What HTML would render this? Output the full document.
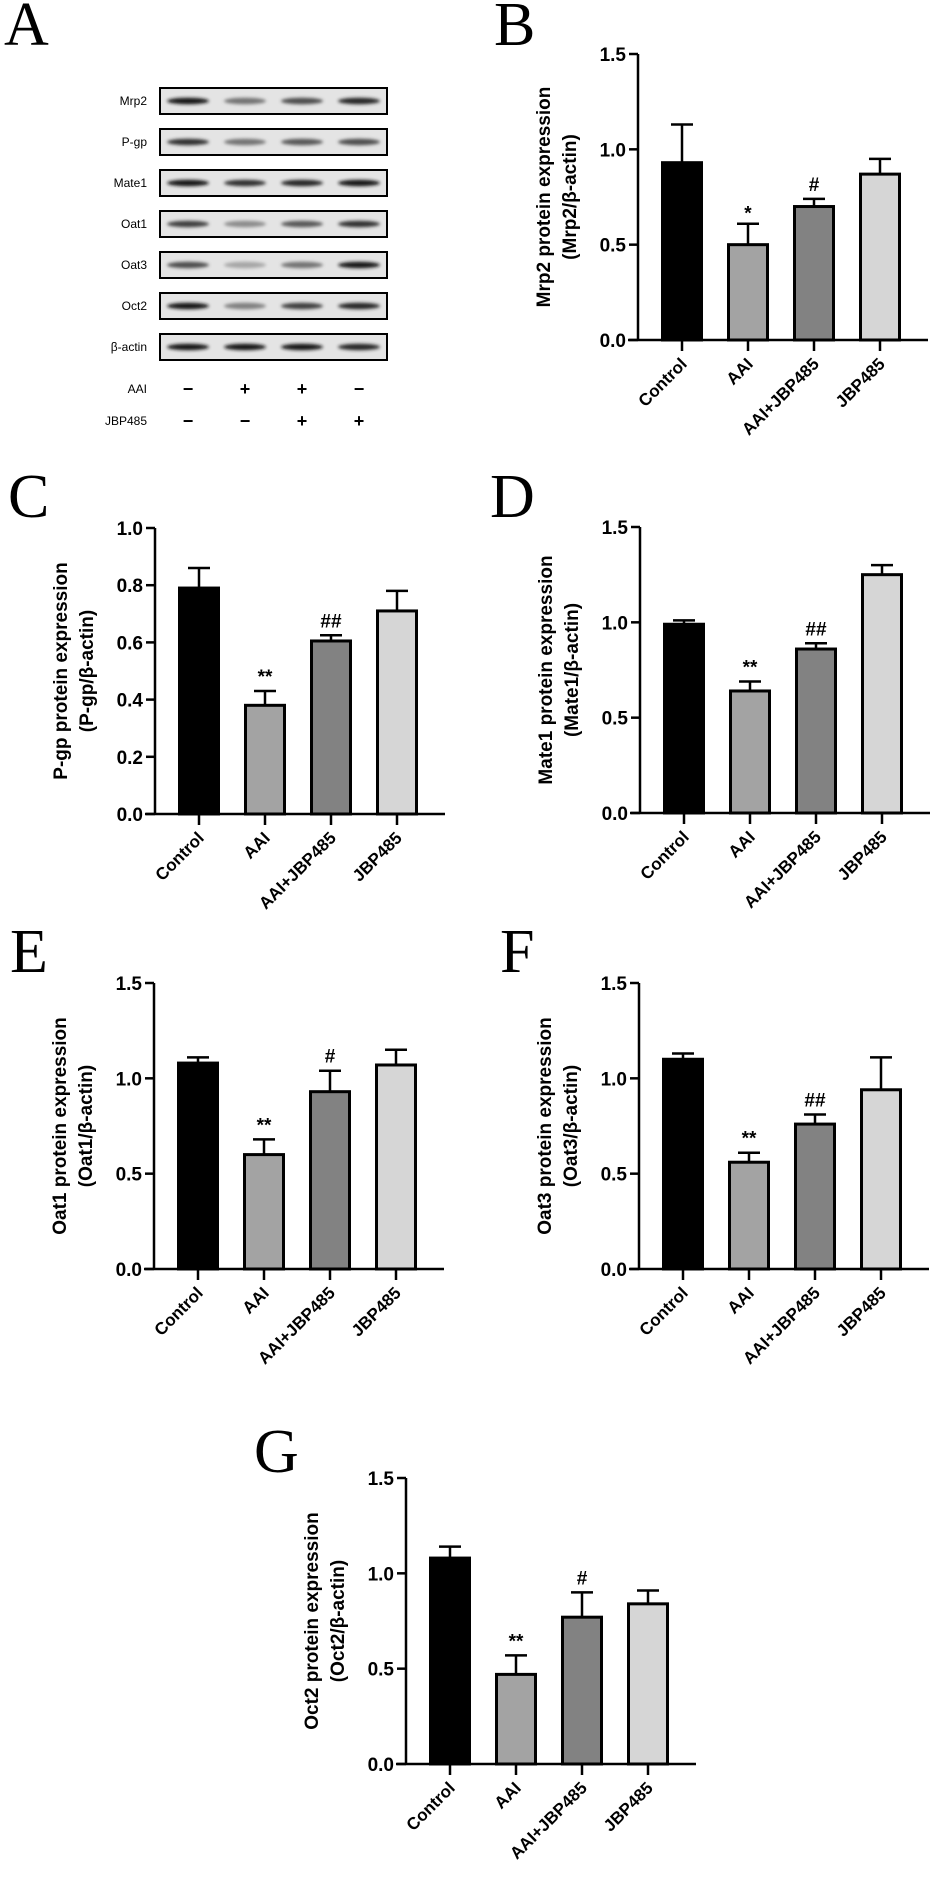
<!DOCTYPE html>
<html><head><meta charset="utf-8">
<style>
html,body{margin:0;padding:0;background:#fff;}
svg{display:block;}
text{font-family:"Liberation Sans",Arial,sans-serif;}
.pl{font-family:"Liberation Serif",serif;font-size:62px;}
.tk{font-size:19px;font-weight:bold;}
.yt{font-size:19px;font-weight:bold;}
.cat{font-size:17px;font-weight:bold;}
.bl{font-size:12px;}
</style></head>
<body>
<svg id="fig" width="931" height="1889" viewBox="0 0 931 1889" xmlns="http://www.w3.org/2000/svg">
<defs>
<filter id="blur" x="-20%" y="-100%" width="140%" height="300%"><feGaussianBlur stdDeviation="1.6"/></filter>
</defs>
<text class="pl" x="4" y="45">A</text>
<g id="blot"></g>
</svg>
<script>
const categories = ["Control","AAI","AAI+JBP485","JBP485"];
const mrp2Values = [0.93,0.50,0.70,0.87];
const mrp2Errors = [0.20,0.11,0.04,0.08];
const pgpValues = [0.79,0.38,0.605,0.71];
const pgpErrors = [0.07,0.05,0.02,0.07];
const mate1Values = [0.99,0.64,0.86,1.25];
const mate1Errors = [0.02,0.05,0.03,0.05];
const oat1Values = [1.08,0.60,0.93,1.07];
const oat1Errors = [0.03,0.08,0.11,0.08];
const oat3Values = [1.10,0.56,0.76,0.94];
const oat3Errors = [0.03,0.05,0.05,0.17];
const oct2Values = [1.08,0.47,0.77,0.84];
const oct2Errors = [0.06,0.10,0.13,0.07];
const aaiMarks = ["*","**","**","**","**","**"];
const jbpMarks = ["#","##","##","#","##","#"];
const ticks15 = [0,0.5,1.0,1.5];
const ticks10 = [0,0.2,0.4,0.6,0.8,1.0];
const blotRows = ["Mrp2","P-gp","Mate1","Oat1","Oat3","Oct2","β-actin"];
const blotIntensity = [[0.9,0.55,0.7,0.85],[0.8,0.55,0.65,0.7],[0.9,0.8,0.85,0.9],[0.75,0.45,0.65,0.8],[0.7,0.35,0.55,0.9],[0.9,0.5,0.75,0.85],[0.9,0.9,0.9,0.85]];
const aaiTreat = ["−","+","+","−"];
const jbpTreat = ["−","−","+","+"];

const NS="http://www.w3.org/2000/svg";
const svg=document.getElementById('fig');
function mk(tag,attrs,parent){const e=document.createElementNS(NS,tag);for(const k in attrs)e.setAttribute(k,attrs[k]);(parent||svg).appendChild(e);return e;}
const fills=["#000000","#a3a3a3","#828282","#d6d6d6"];

const blot=document.getElementById('blot');
const laneX=[188,245,302,359];
blotRows.forEach((name,r)=>{
  const y0=88+r*41;
  const box=mk('rect',{x:160,y:y0,width:227,height:26,fill:"#e4e4e4",stroke:"#000","stroke-width":2},blot);
  
  
  const lab=mk('text',{x:147,y:y0+17,"text-anchor":"end",class:"bl"},blot);
  lab.textContent=name;
  
  
  laneX.forEach((x,i)=>{
    const v=blotIntensity[r][i];
    const g=Math.round(255*(1-v));
    const band=mk('ellipse',{cx:x,cy:y0+13,rx:21,ry:3.2,fill:`rgb(${g},${g},${g})`,filter:"url(#blur)"},blot);
    
    
  });
});
[["AAI",aaiTreat,393],["JBP485",jbpTreat,425]].forEach(([n,arr,y])=>{
  const t=mk('text',{x:147,y:y,"text-anchor":"end",class:"bl"},blot);t.textContent=n;
  
  
  arr.forEach((s,i)=>{const tt=mk('text',{x:laneX[i],y:y+2,"text-anchor":"middle","font-size":"18px","font-weight":"bold"},blot);tt.textContent=s;
    
    });
});

function panel(p){
  const g=mk('g',{});
  
  
  const L=mk('text',{x:p.lx,y:p.ly,class:"pl"},g);L.textContent=p.id.toUpperCase();
  
  
  const H=286, ax=p.ax, y0=p.y0, max=p.ticks[p.ticks.length-1];
  const yS=v=>y0-v/max*H;
  const xS=i=>ax+44+i*66;
  p.values.forEach((v,i)=>{
    const cx=xS(i), top=yS(v), et=yS(v+p.errors[i]);
    const eb=mk('line',{x1:cx,y1:top,x2:cx,y2:et,stroke:"#000","stroke-width":2.5},g);
    
    
    const cap=mk('line',{x1:cx-11,y1:et,x2:cx+11,y2:et,stroke:"#000","stroke-width":2.5},g);
    
    
    const b=mk('rect',{x:cx-19.5,y:top,width:39,height:y0-top,fill:fills[i],stroke:"#000","stroke-width":3},g);
    
    
    if(i>0&&i<3){
      const mark=i===1?p.aai:p.jbp;
      const s=mk('text',{x:cx,y:et-(mark==="*"?4:8),"text-anchor":"middle","font-size":"19px","font-weight":"bold"},g);
      s.textContent=mark;
      
      
    }
  });
  const ya=mk('line',{x1:ax,y1:y0,x2:ax,y2:y0-H,stroke:"#000","stroke-width":2.5},g);
  
  
  const xa=mk('line',{x1:ax-10,y1:y0,x2:ax+290,y2:y0,stroke:"#000","stroke-width":2.5},g);
  
  
  p.ticks.forEach(t=>{
    const y=yS(t);
    mk('line',{x1:ax-9,y1:y,x2:ax,y2:y,stroke:"#000","stroke-width":2.5},g);
    const tl=mk('text',{x:ax-12,y:y+7,"text-anchor":"end",class:"tk"},g);
    tl.textContent=t.toFixed(1);
    
    
  });
  categories.forEach((c,i)=>{
    const x=xS(i);
    mk('line',{x1:x,y1:y0,x2:x,y2:y0+11,stroke:"#000","stroke-width":2.5},g);
    const ct=mk('text',{x:x+6,y:y0+25,"text-anchor":"end",class:"cat",transform:`rotate(-45 ${x+6} ${y0+25})`},g);
    ct.textContent=c;
    
    
  });
  const ym=y0-H/2;
  const t1=mk('text',{x:ax-88,y:ym,"text-anchor":"middle",class:"yt",transform:`rotate(-90 ${ax-88} ${ym})`},g);
  t1.textContent=p.name+" protein expression";
  
  
  const t2=mk('text',{x:ax-62,y:ym,"text-anchor":"middle",class:"yt",transform:`rotate(-90 ${ax-62} ${ym})`},g);
  t2.textContent="("+p.name+"/β-actin)";
  
  
}
panel({id:"b",name:"Mrp2",lx:494,ly:45,ax:638,y0:340,ticks:ticks15,values:mrp2Values,errors:mrp2Errors,aai:aaiMarks[0],jbp:jbpMarks[0]});
panel({id:"c",name:"P-gp",lx:8,ly:517,ax:155,y0:814,ticks:ticks10,values:pgpValues,errors:pgpErrors,aai:aaiMarks[1],jbp:jbpMarks[1]});
panel({id:"d",name:"Mate1",lx:490,ly:517,ax:640,y0:813,ticks:ticks15,values:mate1Values,errors:mate1Errors,aai:aaiMarks[2],jbp:jbpMarks[2]});
panel({id:"e",name:"Oat1",lx:10,ly:972,ax:154,y0:1269,ticks:ticks15,values:oat1Values,errors:oat1Errors,aai:aaiMarks[3],jbp:jbpMarks[3]});
panel({id:"f",name:"Oat3",lx:500,ly:972,ax:639,y0:1269,ticks:ticks15,values:oat3Values,errors:oat3Errors,aai:aaiMarks[4],jbp:jbpMarks[4]});
panel({id:"g",name:"Oct2",lx:254,ly:1472,ax:406,y0:1764,ticks:ticks15,values:oct2Values,errors:oct2Errors,aai:aaiMarks[5],jbp:jbpMarks[5]});
</script>
</body></html>
